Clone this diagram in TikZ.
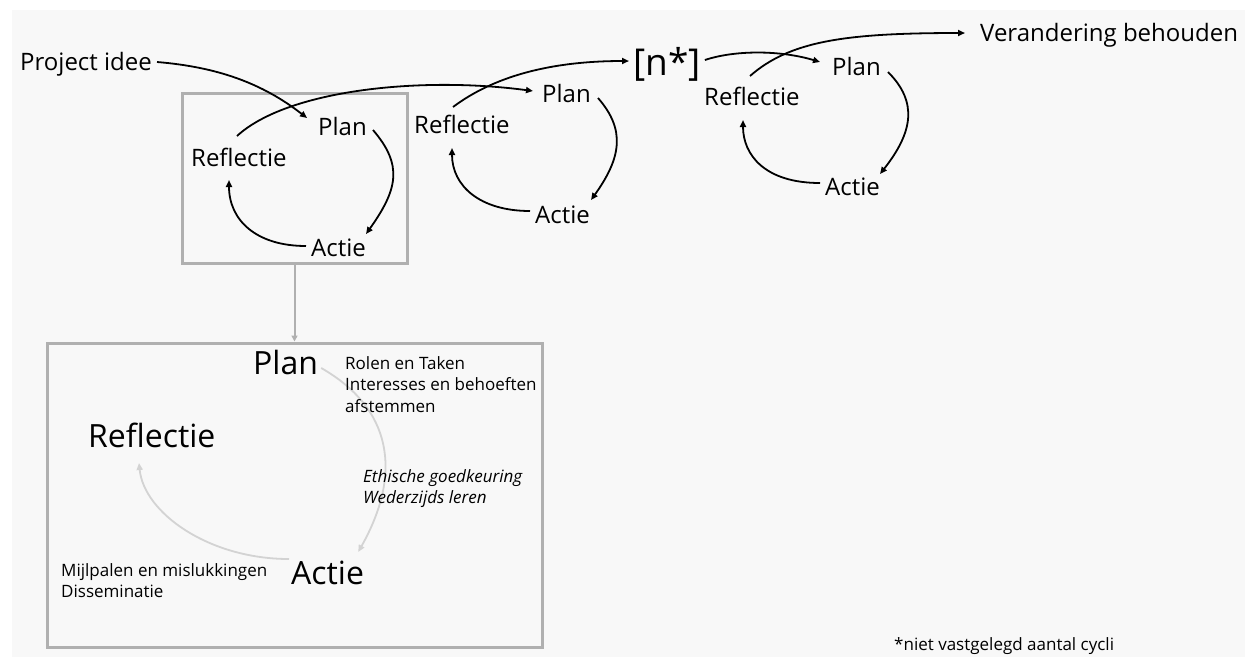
\documentclass[tikz,border=0pt]{standalone}
\usepackage{fontspec}
\setmainfont{Open Sans}
\usetikzlibrary{arrows.meta}
\definecolor{bggray}{HTML}{F8F8F8}
\definecolor{framegray}{HTML}{B0B0B0}
\definecolor{cyclegray}{HTML}{D3D3D3}

\begin{document}
\begin{tikzpicture}[x=1pt,y=-1pt,
    lbl/.style={inner sep=0pt,anchor=base west,font=\fontsize{24}{29}\selectfont},
    biglbl/.style={inner sep=0pt,anchor=base west,font=\fontsize{32}{38}\selectfont},
    note/.style={inner sep=0pt,anchor=north west,align=left,font=\fontsize{17}{21.6}\selectfont},
    frame/.style={draw=framegray,line width=3pt,inner sep=0pt},
    arr/.style={-{Triangle[length=7pt,width=6pt]},line width=1.8pt},
    lightarr/.style={-{Triangle[length=7pt,width=6pt]},line width=1.8pt,draw=cyclegray},
    framearr/.style={-{Triangle[length=6pt,width=6pt]},line width=2pt,draw=framegray}]
  \useasboundingbox (0,0) rectangle (1245,657);
  \fill[bggray] (12,10) rectangle (1245,657);

  \node[lbl] (idee) at (20,70) {Project idee};
  \node[frame,minimum width=225pt,minimum height=170pt] (box1) at (294.5,178) {};
  \node[lbl] (plan1) at (318,135) {Plan};
  \node[lbl] (refl1) at (191,166) {Reflectie};
  \node[lbl] (actie1) at (311,256) {Actie};
  \node[lbl] (plan2) at (542,102) {Plan};
  \node[lbl] (refl2) at (414,133) {Reflectie};
  \node[lbl] (actie2) at (535,223) {Actie};
  \node[lbl,font=\fontsize{37}{44}\selectfont] (nstar) at (633,75) {[n*]};
  \node[lbl] (plan3) at (832,75) {Plan};
  \node[lbl] (refl3) at (704,105) {Reflectie};
  \node[lbl] (actie3) at (825,195) {Actie};
  \node[lbl] (ver) at (980,41) {Verandering behouden};

  \node[frame,minimum width=495pt,minimum height=304pt] (box2) at (294.5,495) {};
  \node[biglbl] (planbig) at (253,374) {Plan};
  \node[biglbl] (reflbig) at (88,447) {Reflectie};
  \node[biglbl] (actiebig) at (291,584) {Actie};
  \node[lbl,font=\fontsize{17}{21.6}\selectfont] (footnote) at (894,650) {*niet vastgelegd aantal cycli};

  \draw[arr] ([shift={(5,-8)}]idee.base east) .. controls +(60,5) and +(-45,-35) .. ([shift={(-11,-17)}]plan1.base west);
  \draw[arr] ([shift={(6,-5)}]plan1.base east) .. controls +(30,35) and +(32,-45) .. ([shift={(0,-22)}]actie1.base east);
  \draw[arr] ([shift={(-5,-10)}]actie1.base west) .. controls +(-50,0) and +(0,40) .. ([shift={(38,14)}]refl1.base west);
  \draw[arr] ([shift={(46,-30)}]refl1.base west) .. controls +(50,-46) and +(-113,-15) .. ([shift={(-9,-11)}]plan2.base west);
  \draw[arr] ([shift={(7,-4)}]plan2.base east) .. controls +(28,32) and +(30,-42) .. ([shift={(1,-23)}]actie2.base east);
  \draw[arr] ([shift={(-5,-12)}]actie2.base west) .. controls +(-50,0) and +(0,38) .. ([shift={(38,15)}]refl2.base west);
  \draw[arr] ([shift={(39,-26)}]refl2.base west) .. controls +(40,-30) and +(-80,0) .. ([shift={(-4,-14)}]nstar.base west);
  \draw[arr] ([shift={(4,-15)}]nstar.base east) .. controls +(30,-10) and +(-40,-12) .. ([shift={(-12,-13)}]plan3.base west);
  \draw[arr] ([shift={(7,-3)}]plan3.base east) .. controls +(30,30) and +(33,-42) .. ([shift={(0,-21)}]actie3.base east);
  \draw[arr] ([shift={(-5,-12)}]actie3.base west) .. controls +(-55,0) and +(0,35) .. ([shift={(39,15)}]refl3.base west);
  \draw[arr] ([shift={(46,-29)}]refl3.base west) .. controls +(40,-35) and +(-120,0) .. ([shift={(-15,-8)}]ver.base west);

  \draw[framearr] (box1.south) -- (box2.north);
  \draw[lightarr] ([shift={(3,-6)}]planbig.base east) .. controls +(70,40) and +(45,-80) .. ([shift={(-6,-32)}]actiebig.base east);
  \draw[lightarr] ([shift={(-2,-25)}]actiebig.base west) .. controls +(-80,0) and +(5,50) .. ([shift={(51,16)}]reflbig.base west);

  \node[note] (plannote) at (345,356) {Rolen en Taken\\Interesses en behoeften\\afstemmen};
  \node[note,font=\fontsize{17}{21.6}\selectfont\itshape] (actienote) at (363,469) {Ethische goedkeuring\\Wederzijds leren};
  \node[note] (reflnote) at (61,563) {Mijlpalen en mislukkingen\\Disseminatie};
\end{tikzpicture}
\end{document}
